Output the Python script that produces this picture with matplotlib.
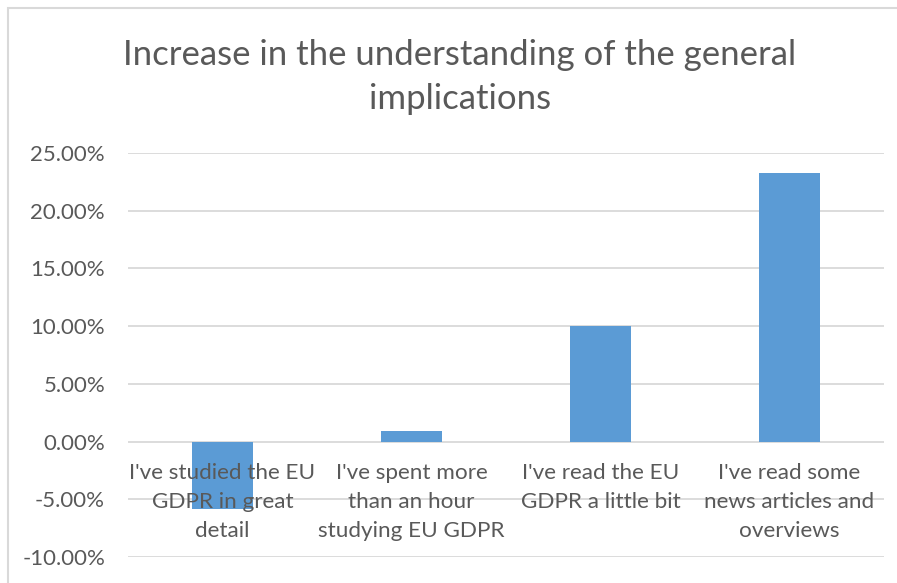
import matplotlib.pyplot as plt
from matplotlib.patches import Rectangle
from matplotlib.ticker import FuncFormatter

categories = ["I've studied the EU\nGDPR in great\ndetail",
              "I've spent more\nthan an hour\nstudying EU GDPR",
              "I've read the EU\nGDPR a little bit",
              "I've read some\nnews articles and\noverviews"]
increase = [-5.8, 0.9, 10.0, 23.3]
yticks = [-10, -5, 0, 5, 10, 15, 20, 25]

plt.rcParams['font.family'] = ['Lato', 'DejaVu Sans']
text_color = '#595959'
bar_color = '#5B9BD5'
grid_color = '#D9D9D9'

W, H = 897, 583
fig = plt.figure(figsize=(W / 100, H / 100), dpi=100)

# chart frame
fig.patches.append(Rectangle((8 / W, -0.1), 1.2, 1 - 8 / H + 0.1,
                             transform=fig.transFigure, fill=False,
                             edgecolor='#D9D9D9', linewidth=1.5))

ax = fig.add_axes([128 / W, 1 - 557 / H, (884 - 128) / W, (557 - 153) / H])
x = range(len(categories))
ax.bar(x, increase, width=0.32, color=bar_color, zorder=2)

ax.set_xlim(-0.5, 3.5)
ax.set_ylim(-10, 25)
ax.set_yticks(yticks)
ax.yaxis.set_major_formatter(FuncFormatter(lambda v, p: f'{v:.2f}%'))
ax.tick_params(axis='y', length=0, pad=16.5, labelsize=16, labelcolor=text_color)
ax.set_xticks([])
ax.grid(axis='y', color=grid_color, linewidth=1.3, zorder=0)
for s in ax.spines.values():
    s.set_visible(False)

# category labels sit just under the zero line
for i, lab in enumerate(categories):
    ax.annotate(lab, (i, 0), xytext=(0, -21), textcoords='offset pixels',
                ha='center', va='top', fontsize=16.2, color=text_color,
                linespacing=1.57, zorder=5)

fig.text(460 / W, 1 - 77 / H, 'Increase in the understanding of the general\nimplications',
         ha='center', va='center', fontsize=25, color=text_color, linespacing=1.45)

fig.savefig('out.png', dpi=100)
